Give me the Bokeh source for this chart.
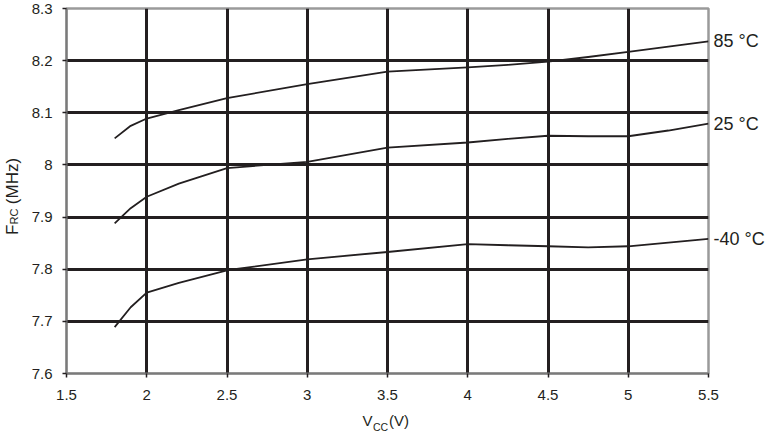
import math
from bokeh.plotting import figure
from bokeh.models import FixedTicker, Range1d, LinearAxis
from bokeh.embed import file_html
from bokeh.resources import INLINE

# ---- data ----
vcc = [1.8, 1.9, 2.0, 2.2, 2.5, 3.0, 3.5, 4.0, 4.25, 4.5, 4.75, 5.0, 5.25, 5.5]
f_85 = [8.051, 8.075, 8.089, 8.105, 8.128, 8.155, 8.179, 8.187, 8.192, 8.198, 8.207, 8.217, 8.227, 8.237]
f_25 = [7.888, 7.917, 7.939, 7.964, 7.994, 8.006, 8.033, 8.043, 8.050, 8.056, 8.055, 8.055, 8.066, 8.079]
f_m40 = [7.689, 7.727, 7.755, 7.774, 7.798, 7.819, 7.833, 7.848, 7.846, 7.844, 7.842, 7.844, 7.851, 7.858]
series = [f_85, f_25, f_m40]
series_labels = ["85 °C", "25 °C", "-40 °C"]

x_ticks = [1.5, 2.0, 2.5, 3.0, 3.5, 4.0, 4.5, 5.0, 5.5]
y_ticks = [7.6, 7.7, 7.8, 7.9, 8.0, 8.1, 8.2, 8.3]
x_tick_labels = ["1.5", "2", "2.5", "3", "3.5", "4", "4.5", "5", "5.5"]
y_tick_labels = ["7.6", "7.7", "7.8", "7.9", "8", "8.1", "8.2", "8.3"]

INK = "#231f20"
FONT = "Liberation Sans"

W, H = 767, 435
BL, BR, BT, BB = 66, 57, 8, 61
FW, FH = W - BL - BR, H - BT - BB

p = figure(width=W, height=H, output_backend="svg", toolbar_location=None,
           x_range=Range1d(x_ticks[0], x_ticks[-1]), y_range=Range1d(y_ticks[0], y_ticks[-1]),
           min_border_left=BL, min_border_right=BR, min_border_top=BT, min_border_bottom=BB)
p.background_fill_color = "white"
p.border_fill_color = "white"
p.outline_line_color = "#9a9a9a"
p.outline_line_width = 2.5

# pixel offset (from frame centre) -> data value, for placing title pieces
xc = (x_ticks[0] + x_ticks[-1]) / 2
yc = (y_ticks[0] + y_ticks[-1]) / 2
def dx(px):
    return xc + px * (x_ticks[-1] - x_ticks[0]) / FW
def dy(px):  # px measured downward from frame centre
    return yc - px * (y_ticks[-1] - y_ticks[0]) / FH

# grid
p.xgrid.ticker = FixedTicker(ticks=x_ticks[1:-1])
p.ygrid.ticker = FixedTicker(ticks=y_ticks[1:-1])
for g in (p.xgrid, p.ygrid):
    g.grid_line_color = INK
    g.grid_line_width = 3

# main axes
p.xaxis.ticker = FixedTicker(ticks=x_ticks)
p.yaxis.ticker = FixedTicker(ticks=y_ticks)
p.xaxis.major_label_overrides = {t: s for t, s in zip(x_ticks, x_tick_labels)}
p.yaxis.major_label_overrides = {t: s for t, s in zip(y_ticks, y_tick_labels)}
for ax in (p.xaxis, p.yaxis):
    ax.axis_line_color = "#7a7a7a"
    ax.axis_line_width = 2
    ax.major_tick_line_color = INK
    ax.major_tick_line_width = 1.5
    ax.major_tick_out = 4
    ax.major_tick_in = 0
    ax.minor_tick_line_color = None
    ax.major_label_text_font = FONT
    ax.major_label_text_font_size = "15px"
    ax.major_label_text_color = INK
p.xaxis.major_label_standoff = 12
p.yaxis.major_label_standoff = 10

def text_axis(side, ticks, texts, size, standoff, orientation="horizontal"):
    ax = LinearAxis(ticker=FixedTicker(ticks=ticks),
                    major_label_overrides={t: s for t, s in zip(ticks, texts)},
                    axis_line_color=None, major_tick_line_color=None,
                    minor_tick_line_color=None, major_tick_out=0, major_tick_in=0,
                    minor_tick_out=0, minor_tick_in=0,
                    major_label_text_font=FONT, major_label_text_font_size=size,
                    major_label_text_color=INK, major_label_standoff=standoff,
                    major_label_orientation=orientation)
    p.add_layout(ax, side)
    return ax

# curves
for ys in series:
    p.line(vcc, ys, line_color=INK, line_width=1.8, line_join="round")

# curve labels on the right
text_axis("right", [s[-1] for s in series], series_labels, "18px", 5)

# x axis title: V_CC (V)
text_axis("below", [dx(-20), dx(11.5)], ["V", "(V)"], "15px", 9)
text_axis("below", [dx(-7)], ["CC"], "10.5px", -11)

# y axis title: F_RC (MHz)
text_axis("left", [dy(38.8), dy(-10)], ["F", "(MHz)"], "17px", 6, "vertical")
text_axis("left", [dy(25.6)], ["RC"], "11px", -20, "vertical")

open("out.html", "w").write(file_html(p, INLINE))
